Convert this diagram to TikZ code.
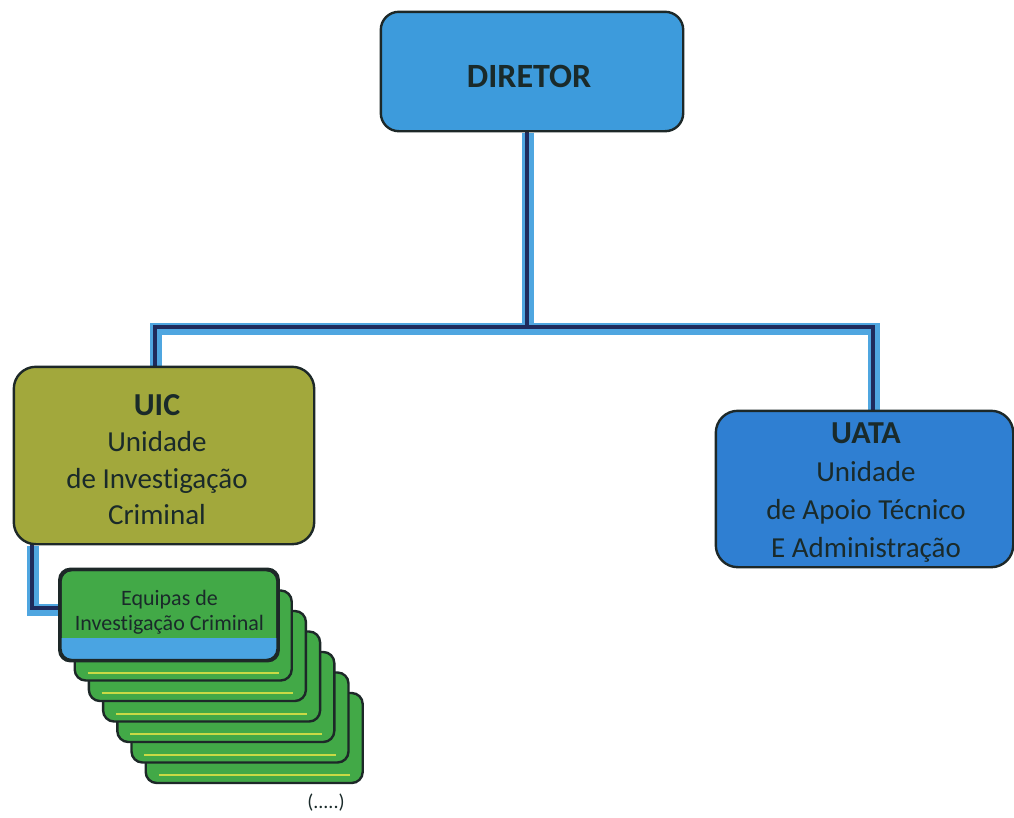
\documentclass[tikz,border=0pt]{standalone}
\usepackage{fontspec}
\setmainfont{Carlito}[Ligatures=NoCommon]
\usetikzlibrary{calc}
\definecolor{dirblue}{HTML}{3D9BDC}
\definecolor{uatablue}{HTML}{2F7FD2}
\definecolor{uicolive}{HTML}{A2A83C}
\definecolor{eqgreen}{HTML}{42A947}
\definecolor{eqblue}{HTML}{4AA4E2}
\definecolor{stripe}{HTML}{C9DA45}
\definecolor{edge}{HTML}{1D2828}
\definecolor{navy}{HTML}{1F2B5C}
\definecolor{glow}{HTML}{4FA6E0}
\definecolor{txt}{HTML}{1A2A2A}
\begin{document}
\begin{tikzpicture}[x=1pt,y=-1pt,
  box/.style={draw=edge,line width=2.4pt,rounded corners=18pt,inner sep=0pt},
  eqbox/.style={box,fill=eqgreen,rounded corners=11pt,minimum width=217pt,minimum height=90pt},
  conn/.style={draw=navy,line width=4.2pt},
  connglow/.style={draw=glow,line width=12pt},
  ttl/.style={anchor=base,text=txt,font=\bfseries\fontsize{32}{36}\selectfont},
  sub/.style={anchor=base,text=txt,font=\fontsize{29}{34}\selectfont},
  eqtxt/.style={anchor=base,text=txt,font=\fontsize{22}{25}\selectfont}]
\useasboundingbox (0,0) rectangle (1014,817);

% boxes
\node[box,fill=dirblue,minimum width=300pt,minimum height=117pt] (dir) at (532,71.5) {};
\node[box,fill=uicolive,rounded corners=22pt,minimum width=298pt,minimum height=175pt] (uic) at (164,455.5) {};
\node[box,fill=uatablue,rounded corners=22pt,minimum width=295pt,minimum height=154pt] (uata) at (864.5,489) {};

% stacked teams
\foreach \k in {7,6,...,2}{
  \node[eqbox] (eq\k) at ({169+14.2*(\k-1)},{615+20.5*(\k-1)}) {};
  \draw[stripe,line width=1.6pt] ($(eq\k.south west)+(14,-9)$) -- ($(eq\k.south east)+(-14,-9)$);
}
\node[eqbox] (eq1) at (169,615) {};
\begin{scope}
  \clip[rounded corners=11pt] (eq1.south west) rectangle (eq1.north east);
  \fill[eqblue] ($(eq1.south west)+(0,-23)$) rectangle (eq1.south east);
\end{scope}
\node[box,rounded corners=11pt,minimum width=217pt,minimum height=90pt] at (eq1) {};

% connectors
\coordinate (bus) at (527,327);
\coordinate (uicin) at ($(uic.north)+(-9,0)$);
\coordinate (uatain) at ($(uata.north)+(8.5,0)$);
\coordinate (turn) at (32,608);
\begin{scope}[transform canvas={xshift=0.8pt,yshift=-1.5pt}]
\draw[connglow] (dir.south -| bus) -- (bus);
\draw[connglow] (uicin) |- (bus) -| (uatain);
\draw[connglow] (uic.south -| turn) -- (turn) -- (turn -| eq1.west);
\end{scope}
\draw[conn] (dir.south -| bus) -- (bus);
\draw[conn] (uicin) |- (bus) -| (uatain);
\draw[conn] (uic.south -| turn) -- (turn) -- (turn -| eq1.west);

% redraw node borders on top of connector ends
\draw[edge,line width=2.4pt,rounded corners=18pt,fill=dirblue] (dir.south west) rectangle (dir.north east);
\draw[edge,line width=2.4pt,rounded corners=22pt,fill=uicolive] (uic.south west) rectangle (uic.north east);
\draw[edge,line width=2.4pt,rounded corners=22pt,fill=uatablue] (uata.south west) rectangle (uata.north east);
\draw[edge,line width=2.4pt,rounded corners=11pt] (eq1.south west) rectangle (eq1.north east);

% texts
\node[anchor=base,text=txt,font=\bfseries\fontsize{34}{40}\selectfont] (tdir) at (529,87) {DIRETOR};

\node[ttl] (tuic) at (157,415) {UIC};
\node[sub] (tuic1) at (157,451.5) {Unidade};
\node[sub] (tuic2) at (157,488) {de Investigação};
\node[sub] (tuic3) at (157,524.5) {Criminal};

\node[ttl] (tuata) at (866,443) {UATA};
\node[sub] (tuata1) at (866,481) {Unidade};
\node[sub] (tuata2) at (866,519) {de Apoio Técnico};
\node[sub] (tuata3) at (866,557) {E Administração};

\node[eqtxt] (teq1) at (169.5,605) {Equipas de};
\node[eqtxt] (teq2) at (169.5,630) {Investigação Criminal};

\node[anchor=base,text=txt,font=\fontsize{20}{24}\selectfont,inner sep=0pt] (dots) at (326,808) {(.....)};
\end{tikzpicture}
\end{document}
